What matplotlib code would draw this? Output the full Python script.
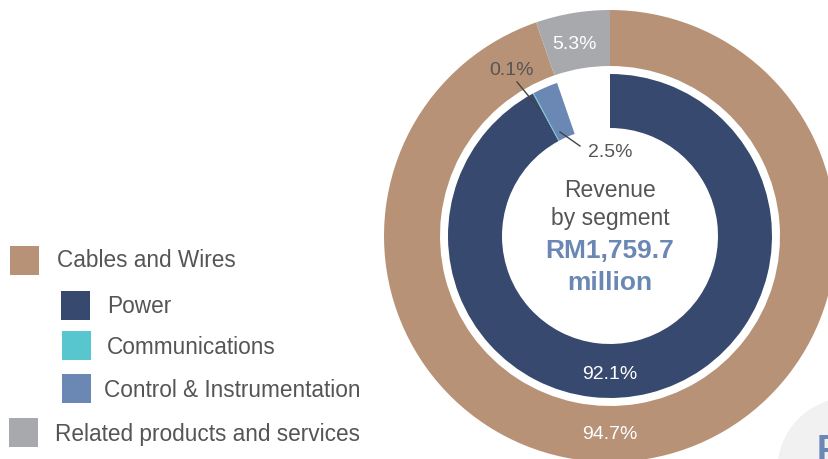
import matplotlib
matplotlib.use("Agg")
from matplotlib import pyplot as plt
from matplotlib.patches import Rectangle, Circle

plt.rcParams['font.family'] = ['Liberation Sans', 'DejaVu Sans']

W, H = 829, 459

# segment shares (% of revenue)
outer_labels = ["Cables and Wires", "Related products and services"]
outer_share = [94.7, 5.3]
inner_labels = ["Power", "Communications", "Control & Instrumentation"]
inner_share = [92.1, 0.1, 2.5]
total_revenue = "RM1,759.7"

BROWN = "#b89276"
GREY = "#a7a9ad"
NAVY = "#37496f"
CYAN = "#57c6cf"
STEEL = "#6b88b5"
TEXT = "#555555"

outer_colors = [BROWN, GREY]
inner_colors = [NAVY, CYAN, STEEL]

fig = plt.figure(figsize=(W / 100, H / 100), dpi=100)
ax = fig.add_axes([0, 0, 1, 1])

def py(y):
    # pixel row (from top) -> data y
    return H - y

cx, cy = 610, py(236)

# outer ring
ax.pie(outer_share, colors=outer_colors, radius=226, center=(cx, cy),
       startangle=90, counterclock=False,
       wedgeprops=dict(width=56, linewidth=0))

# inner ring, same scale as outer; the remainder is left blank
inner_vals = inner_share + [100 - sum(inner_share)]
wedges, _ = ax.pie(inner_vals, colors=inner_colors + ["white"], radius=162,
                   center=(cx, cy), startangle=90, counterclock=False,
                   wedgeprops=dict(width=54, linewidth=0))
wedges[-1].set_visible(False)

# faded badge in the corner
ax.add_patch(Circle((850, py(470)), 72, color="#f1f1f1", zorder=0))
ax.text(817, py(461), "F", color=STEEL, fontsize=26, fontweight="bold",
        ha="left", va="baseline")

# percentage labels
ax.text(610, py(379), f"{inner_share[0]:.1f}%", color="white", fontsize=14,
        ha="center", va="baseline")
ax.text(610, py(439), f"{outer_share[0]:.1f}%", color="white", fontsize=14,
        ha="center", va="baseline")
ax.text(574, py(49), f"{outer_share[1]:.1f}%", color="white", fontsize=14,
        ha="center", va="baseline")
ax.text(512, py(75), f"{inner_share[1]:.1f}%", color=TEXT, fontsize=14,
        ha="center", va="baseline")
ax.text(588, py(157), f"{inner_share[2]:.1f}%", color=TEXT, fontsize=14,
        ha="left", va="baseline")
ax.plot([517, 540], [py(82), py(110)], color="#444444", lw=1)
ax.plot([560, 580], [py(132), py(146)], color="#444444", lw=1)

# centre caption
ax.text(610, py(197), "Revenue", color=TEXT, fontsize=16.5,
        ha="center", va="baseline")
ax.text(610, py(225), "by segment", color=TEXT, fontsize=16.5,
        ha="center", va="baseline")
ax.text(610, py(258), total_revenue, color=STEEL, fontsize=19,
        fontweight="bold", ha="center", va="baseline")
ax.text(610, py(290), "million", color=STEEL, fontsize=19,
        fontweight="bold", ha="center", va="baseline")

# legend
legend_rows = [
    (outer_labels[0], outer_colors[0], 10, 246, 57, 267),
    (inner_labels[0], inner_colors[0], 61, 291, 107, 313),
    (inner_labels[1], inner_colors[1], 62, 331, 107, 354),
    (inner_labels[2], inner_colors[2], 62, 374, 104, 397),
    (outer_labels[1], outer_colors[1], 9, 418, 55, 441),
]
for label, color, sx, sy, tx, ty in legend_rows:
    ax.add_patch(Rectangle((sx, py(sy + 29)), 29, 29, color=color, lw=0))
    ax.text(tx, py(ty), label, color=TEXT, fontsize=16.3,
            ha="left", va="baseline")

ax.set_xlim(0, W)
ax.set_ylim(0, H)
ax.set_aspect("equal")
ax.axis("off")

fig.savefig("out.png", dpi=100)
